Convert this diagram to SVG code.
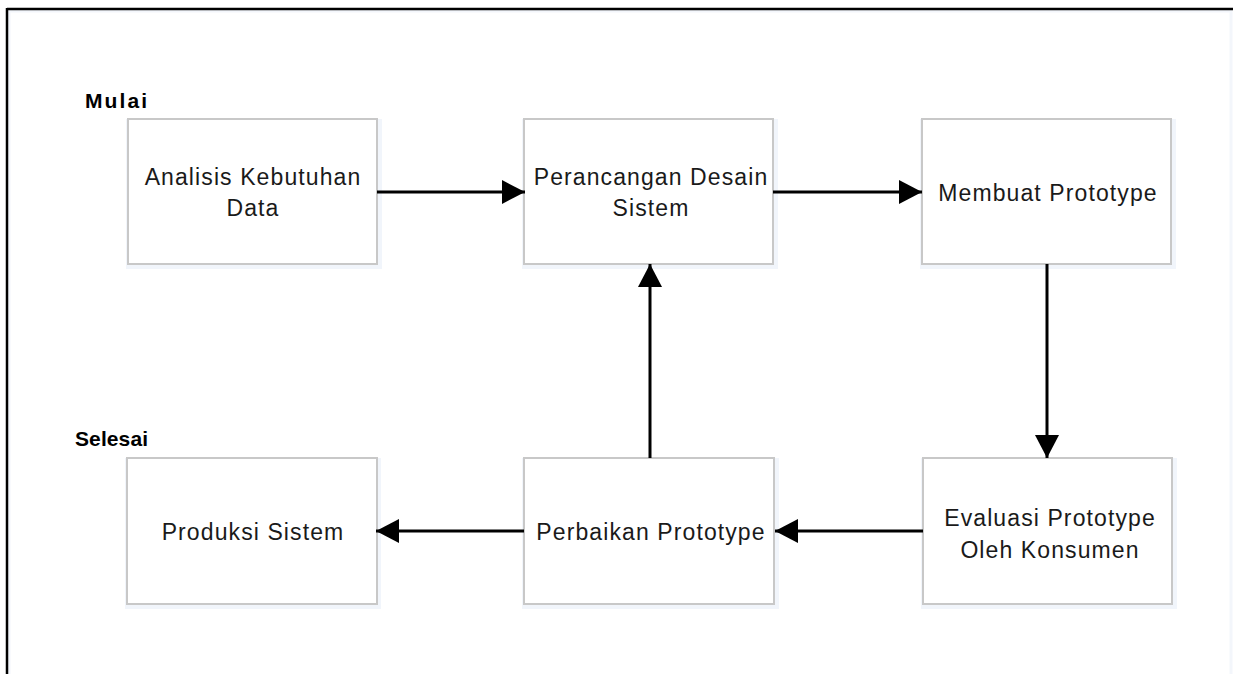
<svg xmlns="http://www.w3.org/2000/svg" width="1233" height="674" viewBox="0 0 1233 674">
<style>
.box{fill:#ffffff;stroke:#c8c8c8;stroke-width:2}
.sh{fill:#f1f5fb}
.t{font-family:"Liberation Sans",Arial,sans-serif;font-size:23px;letter-spacing:1.1px;fill:#1a1a1a;text-anchor:middle}
.b{font-family:"Liberation Sans",Arial,sans-serif;font-size:21px;font-weight:bold;fill:#000}
.c{stroke:#000;stroke-width:3;fill:none;marker-end:url(#ah)}
</style>
<defs>
<marker id="ah" markerUnits="userSpaceOnUse" markerWidth="24" markerHeight="24" refX="23" refY="12" orient="auto">
<path d="M0,0 L23,12 L0,24 Z" fill="#000"/>
</marker>
</defs>
<rect x="0" y="0" width="1233" height="674" fill="#ffffff"/>
<rect x="9" y="11" width="1222" height="670" fill="none" stroke="#f3f6fb" stroke-width="3"/>
<g id="frame">
<line x1="7" y1="9" x2="1233" y2="9" stroke="#000" stroke-width="2.5"/>
<line x1="7" y1="8" x2="7" y2="674" stroke="#000" stroke-width="2.5"/>
</g>
<text class="b" x="85" y="108" textLength="62" lengthAdjust="spacing">Mulai</text>
<text class="b" x="75" y="446" textLength="73" lengthAdjust="spacing">Selesai</text>
<g id="n1">
<rect class="sh" x="126" y="119" width="256" height="150"/>
<rect class="box" x="128" y="119" width="249" height="145"/>
<text class="t" x="253" y="185">Analisis Kebutuhan</text>
<text class="t" x="253" y="216">Data</text>
</g>
<g id="n2">
<rect class="sh" x="522" y="119" width="256" height="150"/>
<rect class="box" x="524" y="119" width="249" height="145"/>
<text class="t" x="651" y="185">Perancangan Desain</text>
<text class="t" x="651" y="216">Sistem</text>
</g>
<g id="n3">
<rect class="sh" x="920" y="119" width="256" height="150"/>
<rect class="box" x="922" y="119" width="249" height="145"/>
<text class="t" x="1048" y="201">Membuat Prototype</text>
</g>
<g id="n4">
<rect class="sh" x="125" y="458" width="256" height="151"/>
<rect class="box" x="127" y="458" width="250" height="146"/>
<text class="t" x="253" y="540">Produksi Sistem</text>
</g>
<g id="n5">
<rect class="sh" x="522" y="458" width="257" height="151"/>
<rect class="box" x="524" y="458" width="250" height="146"/>
<text class="t" x="651" y="540">Perbaikan Prototype</text>
</g>
<g id="n6">
<rect class="sh" x="921" y="458" width="256" height="151"/>
<rect class="box" x="923" y="458" width="249" height="146"/>
<text class="t" x="1050" y="526">Evaluasi Prototype</text>
<text class="t" x="1050" y="558">Oleh Konsumen</text>
</g>
<g id="connectors">
<line class="c" x1="377" y1="192" x2="525" y2="192"/>
<line class="c" x1="773" y1="192" x2="922" y2="192"/>
<line class="c" x1="1047" y1="264" x2="1047" y2="458"/>
<line class="c" x1="923" y1="531" x2="775" y2="531"/>
<line class="c" x1="524" y1="531" x2="376" y2="531"/>
<line class="c" x1="650" y1="458" x2="650" y2="264"/>
</g>
</svg>
